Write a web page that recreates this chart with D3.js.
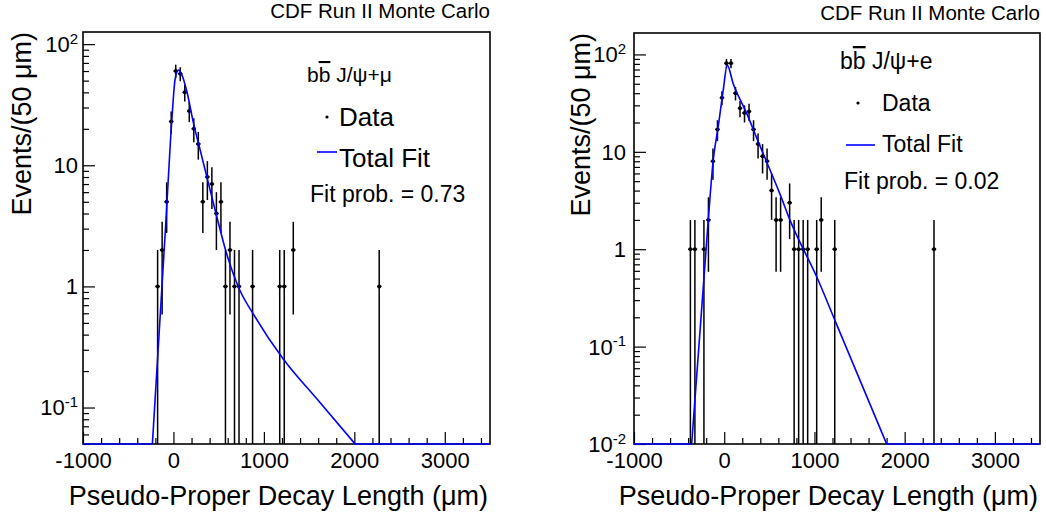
<!DOCTYPE html>
<html><head><meta charset="utf-8">
<script src="https://cdn.jsdelivr.net/npm/d3@7"></script>
<style>
body{margin:0;background:#fff}
text{font-family:"Liberation Sans",Arial,Helvetica,sans-serif;fill:#000}
</style>
</head><body>
<svg id="c" width="1046" height="512"></svg>
<script>
// ---------- data ----------
const xDomain = [-1000, 3500];
const xMajorTicks = [-1000, 0, 1000, 2000, 3000];
const binHalfWidth = 25;

// J/psi + mu panel
const muBinCenters = [-175,-125,-75,-25,25,75,125,175,225,275,325,375,425,475,525,575,625,675,725,875,1175,1225,1325,2275];
const muCounts     = [1,2,5,23,60,57,40,28,20,15,5,8,7,4,5,1,2,1,1,1,1,1,2,1];
const muFitX = [-1000,-233,-150,-82,-19,18,55,92,147,221,294,368,460,589,737,884,1216,1585,2009,3500];
const muFitY = [0.05,0.05,0.52,3.6,23,51,61,56,41,22.4,13.5,8.1,4.3,1.85,0.92,0.59,0.25,0.118,0.05,0.05];
const muYDomain = [0.05, 126];
const muYTicks = [0.1, 1, 10, 100];
const muYTickLabels = [["10","-1"],["1",""],["10",""],["10","2"]];

// J/psi + e panel
const eBinCenters = [-375,-325,-225,-175,-125,-75,-25,25,75,125,175,225,275,325,375,425,475,525,575,625,725,775,825,875,925,1025,1075,1225,2325];
const eCounts     = [1,1,1,2,8,17,36,81,81,40,28,25,26,17,12,9,8,4,2,2,3,1,1,1,1,1,2,1,1];
const eFitX = [-1000,-361,-177,-122,-67,-11,33,100,248,396,470,617,728,1042,1227,1800,3500];
const eFitY = [0.01,0.01,2,8.2,18,43,77.6,50,25,11.5,7.9,3.7,2,0.48,0.186,0.01,0.01];
const eYDomain = [0.01, 166];
const eYTicks = [0.01, 0.1, 1, 10, 100];
const eYTickLabels = [["10","-2"],["10","-1"],["1",""],["10",""],["10","2"]];

const titleText = "CDF Run II Monte Carlo";
const xTitle = "Pseudo-Proper Decay Length (\u03bcm)";
const yTitle = "Events/(50 \u03bcm)";

// ---------- drawing ----------
const svg = d3.select("#c");

function panel(o){
  const x = d3.scaleLinear().domain(xDomain).range([o.left, o.right]);
  const y = d3.scaleLog().domain(o.yDomain).range([o.bottom, o.top]).clamp(true);
  const g = svg.append("g");

  // minor x ticks
  const minorX = d3.range(xDomain[0], xDomain[1] + 1, 200).filter(v => v % 1000 !== 0);
  g.append("g").attr("transform", `translate(0,${o.bottom})`)
    .call(d3.axisBottom(x).tickValues(minorX).tickSizeInner(-6).tickSizeOuter(0).tickFormat(""))
    .call(a => { a.select(".domain").remove(); a.selectAll("line").attr("stroke","#000").attr("stroke-width",1.2); });
  // major x ticks
  g.append("g").attr("transform", `translate(0,${o.bottom})`)
    .call(d3.axisBottom(x).tickValues(xMajorTicks).tickSizeInner(-12).tickSizeOuter(0).tickPadding(8).tickFormat(d => String(d)))
    .call(a => {
      a.select(".domain").remove();
      a.selectAll("line").attr("stroke","#000").attr("stroke-width",1.2);
      a.selectAll("text").attr("font-size", 22).attr("font-family", '"Liberation Sans",Arial,sans-serif').attr("fill","#000");
    });

  // y ticks: log minor (2..9) and decades
  const lo = Math.floor(Math.log10(o.yDomain[0])), hi = Math.ceil(Math.log10(o.yDomain[1]));
  const minorY = [];
  for (let e = lo; e < hi; e++) for (let m = 2; m <= 9; m++) {
    const v = m * Math.pow(10, e);
    if (v >= o.yDomain[0] && v <= o.yDomain[1]) minorY.push(v);
  }
  g.append("g").attr("transform", `translate(${o.left},0)`)
    .call(d3.axisLeft(y).tickValues(minorY).tickSizeInner(-6).tickSizeOuter(0).tickFormat(""))
    .call(a => { a.select(".domain").remove(); a.selectAll("line").attr("stroke","#000").attr("stroke-width",1.2); });
  g.append("g").attr("transform", `translate(${o.left},0)`)
    .call(d3.axisLeft(y).tickValues(o.yTicks).tickSizeInner(-12).tickSizeOuter(0).tickFormat(""))
    .call(a => { a.select(".domain").remove(); a.selectAll("line").attr("stroke","#000").attr("stroke-width",1.2); });

  // y tick labels with superscripts
  o.yTicks.forEach((v, i) => {
    const [base, exp] = o.yLabels[i];
    const t = g.append("text").attr("x", o.left - o.yLabelGap).attr("y", y(v)).attr("dy", "0.36em")
      .attr("text-anchor", "end").attr("font-size", 22);
    t.append("tspan").text(base);
    if (exp) t.append("tspan").attr("dy", "-0.55em").attr("font-size", 15).text(exp);
  });

  // frame
  g.append("rect").attr("x", o.left).attr("y", o.top)
    .attr("width", o.right - o.left).attr("height", o.bottom - o.top)
    .attr("fill", "none").attr("stroke", "#000").attr("stroke-width", 1.6);

  // data with sqrt(N) errors
  const pts = o.bins.map((c, i) => ({c, n: o.counts[i]}));
  const dg = g.append("g").attr("stroke", "#000").attr("stroke-width", 1.5);
  pts.forEach(p => {
    const err = Math.sqrt(p.n);
    const lowV = p.n - err;
    const yLow = lowV > 0 ? y(lowV) : o.bottom;
    dg.append("line").attr("x1", x(p.c)).attr("x2", x(p.c)).attr("y1", yLow).attr("y2", y(p.n + err));
    dg.append("line").attr("x1", x(p.c - binHalfWidth)).attr("x2", x(p.c + binHalfWidth)).attr("y1", y(p.n)).attr("y2", y(p.n));
  });
  g.append("g").selectAll("circle").data(pts).join("circle")
    .attr("cx", d => x(d.c)).attr("cy", d => y(d.n)).attr("r", 2).attr("fill", "#000");

  // fit curve: smooth visible part, straight flat parts along the frame floor
  const fit = o.fitX.map((v, i) => [v, o.fitY[i]]);
  const ymin = o.yDomain[0];
  let i0 = fit.findIndex(d => d[1] > ymin);
  let i1 = fit.length - 1 - [...fit].reverse().findIndex(d => d[1] > ymin);
  const a0 = Math.max(0, i0 - 1), a1 = Math.min(fit.length - 1, i1 + 1);
  const smooth = d3.line().x(d => x(d[0])).y(d => y(d[1])).curve(d3.curveMonotoneX);
  const straight = d3.line().x(d => x(d[0])).y(d => y(d[1]));
  const fg = g.append("g").attr("fill", "none").attr("stroke", "#0000ff").attr("stroke-width", 1.6);
  fg.append("path").attr("d", straight(fit.slice(0, a0 + 1)));
  fg.append("path").attr("d", smooth(fit.slice(a0, a1 + 1)));
  fg.append("path").attr("d", straight(fit.slice(a1)));

  // title
  g.append("text").attr("x", o.right).attr("y", o.titleY).attr("text-anchor", "end")
    .attr("font-size", 20.5).text(titleText);
  // axis titles
  g.append("text").attr("x", o.right - 2).attr("y", 505).attr("text-anchor", "end")
    .attr("font-size", 27).text(xTitle);
  g.append("text").attr("transform", `translate(${o.yTitleX},${o.top}) rotate(-90)`)
    .attr("text-anchor", "end").attr("font-size", 27).text(yTitle);

  // legend
  const L = o.legend;
  const h = g.append("text").attr("x", L.headX).attr("y", L.headY).attr("font-size", L.headSize);
  h.append("tspan").text("b");
  h.append("tspan").style("text-decoration", "overline").text("b");
  h.append("tspan").text(" J/\u03c8+" + L.lepton);
  g.append("circle").attr("cx", L.dotX).attr("cy", L.dotY).attr("r", 1.6).attr("fill", "#000");
  g.append("text").attr("x", L.textX).attr("y", L.dataY).attr("font-size", L.entrySize).text("Data");
  g.append("line").attr("x1", L.lineX1).attr("x2", L.lineX2).attr("y1", L.lineY).attr("y2", L.lineY)
    .attr("stroke", "#0000ff").attr("stroke-width", 1.6);
  g.append("text").attr("x", L.textX).attr("y", L.fitY).attr("font-size", L.entrySize).text("Total Fit");
  g.append("text").attr("x", L.probX).attr("y", L.probY).attr("font-size", L.probSize).text("Fit prob. = " + L.prob);
}

panel({
  left: 83, right: 490, top: 32, bottom: 444,
  yDomain: muYDomain, yTicks: muYTicks, yLabels: muYTickLabels, yLabelGap: 5,
  bins: muBinCenters, counts: muCounts, fitX: muFitX, fitY: muFitY,
  titleY: 18, yTitleX: 31,
  legend: {lepton: "\u03bc", headX: 307, headY: 82, headSize: 21,
           dotX: 327, dotY: 117, textX: 339, dataY: 126, fitY: 167, entrySize: 26,
           lineX1: 317, lineX2: 337, lineY: 152,
           probX: 310, probY: 202, probSize: 23, prob: "0.73"}
});

panel({
  left: 634, right: 1040, top: 33, bottom: 444,
  yDomain: eYDomain, yTicks: eYTicks, yLabels: eYTickLabels, yLabelGap: 8,
  bins: eBinCenters, counts: eCounts, fitX: eFitX, fitY: eFitY,
  titleY: 20, yTitleX: 590,
  legend: {lepton: "e", headX: 840, headY: 69, headSize: 23,
           dotX: 858, dotY: 103, textX: 882, dataY: 111, fitY: 152, entrySize: 23,
           lineX1: 846, lineX2: 875, lineY: 145,
           probX: 844, probY: 189, probSize: 23, prob: "0.02"}
});
</script>
</body></html>
